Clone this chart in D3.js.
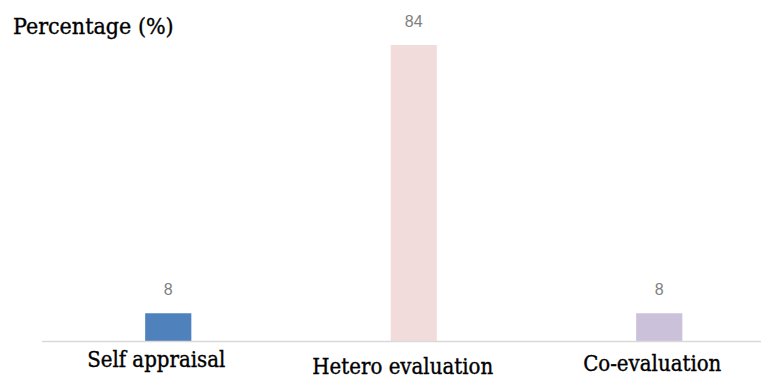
<!DOCTYPE html>
<html>
<head>
<meta charset="utf-8">
<script src="https://cdn.jsdelivr.net/npm/d3@7"></script>
<style>
  html, body { margin: 0; padding: 0; background: #fff; }
  svg { display: block; }
  .serif { font-family: 'DejaVu Serif Condensed', 'DejaVu Serif', serif; font-stretch: condensed; stroke: #000; stroke-width: 0.35px; }
</style>
</head>
<body>
<svg id="chart" width="761" height="379"></svg>
<script>
// Assessment type shares, in percent
const categories = ["Self appraisal", "Hetero evaluation", "Co-evaluation"];
const values = [8, 84, 8];
const colors = ["#4f81bd", "#f2dcdb", "#ccc1da"];
const yTitle = "Percentage (%)";

const svg = d3.select("#chart");
const W = 761, H = 379;
const baseY = 341.5;

// small per-label nudges of the category text
const labelDx = [-12, -11, -7];
const labelDy = [25, 32, 29];

const x = d3.scaleBand()
  .domain(categories)
  .range([45.5, 782])
  .paddingInner(0.812)
  .paddingOuter(0.406);

const y = d3.scaleLinear()
  .domain([0, 84])
  .range([baseY, 45]);

// bars
svg.selectAll("rect.bar")
  .data(categories)
  .enter().append("rect")
  .attr("class", "bar")
  .attr("x", d => x(d))
  .attr("width", x.bandwidth())
  .attr("y", (d, i) => y(values[i]))
  .attr("height", (d, i) => baseY - y(values[i]))
  .attr("fill", (d, i) => colors[i]);

// category axis
const xAxis = d3.axisBottom(x).tickSize(0).tickPadding(0);
const gx = svg.append("g")
  .attr("transform", `translate(0,${baseY})`)
  .call(xAxis);
gx.select(".domain")
  .attr("d", `M42,0H${W}`)
  .attr("stroke", "#d9d9d9")
  .attr("stroke-width", 1.5);
gx.selectAll(".tick text")
  .attr("class", "serif")
  .attr("dy", null)
  .attr("y", (d, i) => labelDy[i])
  .attr("dx", (d, i) => labelDx[i])
  .attr("fill", "#000")
  .style("font-size", "22px");

// value labels
svg.selectAll("text.val")
  .data(categories)
  .enter().append("text")
  .attr("class", "val")
  .attr("x", d => x(d) + x.bandwidth() / 2)
  .attr("y", (d, i) => y(values[i]) - 18)
  .attr("text-anchor", "middle")
  .attr("fill", "#7f7f7f")
  .style("font-family", "'Liberation Sans', Arial, sans-serif")
  .style("font-size", "16px")
  .text((d, i) => values[i]);

// axis title
svg.append("text")
  .attr("class", "serif")
  .attr("x", 13)
  .attr("y", 34)
  .attr("fill", "#000")
  .style("font-size", "23px")
  .text(yTitle);
</script>
</body>
</html>
